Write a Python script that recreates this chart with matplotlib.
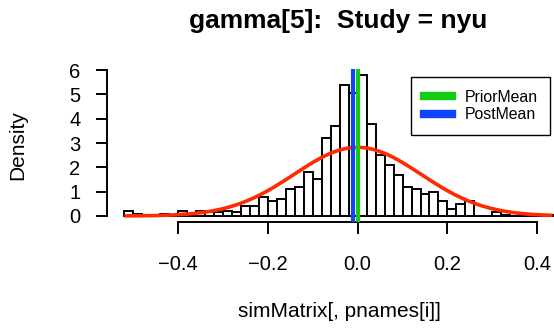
import numpy as np
import matplotlib
matplotlib.use('Agg')  # no display, just write the png
import matplotlib.pyplot as plt

plt.rcParams['font.family'] = ['Liberation Sans', 'DejaVu Sans']

# --- DATA ---
# histogram of the posterior draws (density scale), breaks every 0.02
breaks = np.linspace(-0.52, 0.44, 49)
density = [0.2, 0.1, 0.05, 0.05, 0.1, 0.05, 0.2, 0.1, 0.2, 0.15, 0.15, 0.2, 0.15,
           0.4, 0.4, 0.8, 0.6, 0.7, 1.1, 1.2, 1.8, 1.5,
           3.2, 3.7, 5.4, 5.05, 5.8, 3.8, 2.5, 2.1, 1.7,
           1.2, 1.1, 0.9, 1.0, 0.6, 0.3, 0.5, 0.6,
           0.0, 0.0, 0.15, 0.05, 0.0, 0.0, 0.0, 0.0, 0.05]

# prior N(0, 0.02) and the posterior mean
prior_mean = 0.0
prior_sd = 0.1414
post_mean = -0.011
curve_range = (-0.515, 0.43)

x_ticks = [-0.4, -0.2, 0.0, 0.2, 0.4]
x_ticklabels = ['\u22120.4', '\u22120.2', '0.0', '0.2', '0.4']
y_ticks = [0, 1, 2, 3, 4, 5, 6]

# --- FIGURE ---
W, H = 554, 328
fig = plt.figure(figsize=(W / 100, H / 100), dpi=100)
ax = fig.add_axes([106.6 / W, (H - 221.6) / H, 466 / W, 152.3 / H])

ax.bar(breaks[:-1], density, width=0.02, align='edge', color='white',
       edgecolor='black', linewidth=1.4, zorder=1)

xs = np.linspace(curve_range[0], curve_range[1], 400)
prior_pdf = np.exp(-0.5 * ((xs - prior_mean) / prior_sd) ** 2) / (prior_sd * np.sqrt(2 * np.pi))
ax.plot(xs, prior_pdf, color='#FF2A00', lw=2.6, zorder=2)

ax.axvline(prior_mean, color='#11CC11', lw=3, label='PriorMean', zorder=3)
ax.axvline(post_mean, color='#1144FF', lw=3, label='PostMean', zorder=3)

ax.set_xlim(-0.5584, 0.4784)
ax.set_ylim(-0.232, 6.032)

for s in ['top', 'right']:
    ax.spines[s].set_visible(False)
ax.spines['left'].set_bounds(0, 6)
ax.spines['bottom'].set_bounds(-0.4, 0.4)
ax.spines['left'].set_linewidth(1.4)
ax.spines['bottom'].set_linewidth(1.4)

ax.set_xticks(x_ticks)
ax.set_xticklabels(x_ticklabels)
ax.set_yticks(y_ticks)
ax.tick_params(axis='x', length=8.6, width=1.4, pad=15.8, labelsize=14.5)
ax.tick_params(axis='y', length=8, width=1.4, pad=10.8, labelsize=14.5)

leg = ax.legend(loc='upper left', bbox_to_anchor=(411 / W, (H - 77) / H),
                bbox_transform=fig.transFigure, fontsize=11.4, frameon=True,
                fancybox=False, edgecolor='black', framealpha=1, borderpad=0.8,
                handlelength=1.77, handletextpad=0.82, labelspacing=0.16,
                borderaxespad=0)
leg.get_frame().set_linewidth(1.0)
for line in leg.get_lines():
    line.set_linewidth(6)

fig.text(338 / W, (H - 28) / H, 'gamma[5]:  Study = nyu', ha='center',
         va='baseline', fontsize=19, fontweight='bold')
fig.text(339.6 / W, (H - 317) / H, 'simMatrix[, pnames[i]]', ha='center',
         va='baseline', fontsize=15)
fig.text(18 / W, (H - 145.5) / H, 'Density', rotation=90, ha='center',
         va='center', fontsize=15)

fig.savefig('out.png', dpi=100)
